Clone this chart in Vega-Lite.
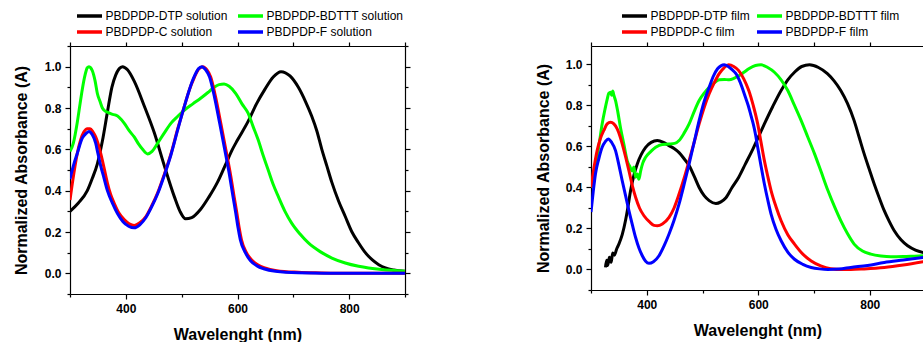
{
"$schema": "https://vega.github.io/schema/vega-lite/v6.json",
"padding": {"left": 13, "top": 9, "right": 0, "bottom": 0},
"spacing": 124,
"background": "white",
"datasets": {
"sol": [
{"s":"PBDPDP-DTP solution","x":300,"y":0.30},{"s":"PBDPDP-DTP solution","x":315,"y":0.34},{"s":"PBDPDP-DTP solution","x":331,"y":0.40},{"s":"PBDPDP-DTP solution","x":340,"y":0.46},{"s":"PBDPDP-DTP solution","x":349,"y":0.53},{"s":"PBDPDP-DTP solution","x":358,"y":0.64},{"s":"PBDPDP-DTP solution","x":367,"y":0.78},{"s":"PBDPDP-DTP solution","x":375,"y":0.90},{"s":"PBDPDP-DTP solution","x":382,"y":0.96},{"s":"PBDPDP-DTP solution","x":388,"y":0.99},{"s":"PBDPDP-DTP solution","x":394,"y":1.0},{"s":"PBDPDP-DTP solution","x":403,"y":0.985},{"s":"PBDPDP-DTP solution","x":415,"y":0.93},{"s":"PBDPDP-DTP solution","x":433,"y":0.81},{"s":"PBDPDP-DTP solution","x":451,"y":0.68},{"s":"PBDPDP-DTP solution","x":469,"y":0.52},{"s":"PBDPDP-DTP solution","x":487,"y":0.37},{"s":"PBDPDP-DTP solution","x":497,"y":0.30},{"s":"PBDPDP-DTP solution","x":507,"y":0.264},{"s":"PBDPDP-DTP solution","x":518,"y":0.27},{"s":"PBDPDP-DTP solution","x":534,"y":0.31},{"s":"PBDPDP-DTP solution","x":549,"y":0.37},{"s":"PBDPDP-DTP solution","x":564,"y":0.44},{"s":"PBDPDP-DTP solution","x":580,"y":0.535},{"s":"PBDPDP-DTP solution","x":590,"y":0.595},{"s":"PBDPDP-DTP solution","x":600,"y":0.645},{"s":"PBDPDP-DTP solution","x":619,"y":0.735},{"s":"PBDPDP-DTP solution","x":634,"y":0.82},{"s":"PBDPDP-DTP solution","x":649,"y":0.89},{"s":"PBDPDP-DTP solution","x":664,"y":0.95},{"s":"PBDPDP-DTP solution","x":678,"y":0.976},{"s":"PBDPDP-DTP solution","x":694,"y":0.955},{"s":"PBDPDP-DTP solution","x":709,"y":0.90},{"s":"PBDPDP-DTP solution","x":722,"y":0.83},{"s":"PBDPDP-DTP solution","x":733,"y":0.76},{"s":"PBDPDP-DTP solution","x":742,"y":0.69},{"s":"PBDPDP-DTP solution","x":751,"y":0.60},{"s":"PBDPDP-DTP solution","x":760,"y":0.52},{"s":"PBDPDP-DTP solution","x":769,"y":0.44},{"s":"PBDPDP-DTP solution","x":781,"y":0.35},{"s":"PBDPDP-DTP solution","x":793,"y":0.275},{"s":"PBDPDP-DTP solution","x":805,"y":0.20},{"s":"PBDPDP-DTP solution","x":817,"y":0.147},{"s":"PBDPDP-DTP solution","x":829,"y":0.10},{"s":"PBDPDP-DTP solution","x":841,"y":0.066},{"s":"PBDPDP-DTP solution","x":853,"y":0.042},{"s":"PBDPDP-DTP solution","x":865,"y":0.026},{"s":"PBDPDP-DTP solution","x":880,"y":0.016},{"s":"PBDPDP-DTP solution","x":900,"y":0.01},
{"s":"PBDPDP-BDTTT solution","x":300,"y":0.59},{"s":"PBDPDP-BDTTT solution","x":306,"y":0.63},{"s":"PBDPDP-BDTTT solution","x":313,"y":0.73},{"s":"PBDPDP-BDTTT solution","x":318,"y":0.82},{"s":"PBDPDP-BDTTT solution","x":322,"y":0.89},{"s":"PBDPDP-BDTTT solution","x":327,"y":0.96},{"s":"PBDPDP-BDTTT solution","x":331,"y":0.995},{"s":"PBDPDP-BDTTT solution","x":334,"y":1.0},{"s":"PBDPDP-BDTTT solution","x":337,"y":0.995},{"s":"PBDPDP-BDTTT solution","x":340,"y":0.98},{"s":"PBDPDP-BDTTT solution","x":345,"y":0.93},{"s":"PBDPDP-BDTTT solution","x":349,"y":0.87},{"s":"PBDPDP-BDTTT solution","x":354,"y":0.83},{"s":"PBDPDP-BDTTT solution","x":358,"y":0.80},{"s":"PBDPDP-BDTTT solution","x":363,"y":0.785},{"s":"PBDPDP-BDTTT solution","x":367,"y":0.78},{"s":"PBDPDP-BDTTT solution","x":375,"y":0.77},{"s":"PBDPDP-BDTTT solution","x":382,"y":0.765},{"s":"PBDPDP-BDTTT solution","x":388,"y":0.755},{"s":"PBDPDP-BDTTT solution","x":397,"y":0.727},{"s":"PBDPDP-BDTTT solution","x":406,"y":0.69},{"s":"PBDPDP-BDTTT solution","x":415,"y":0.66},{"s":"PBDPDP-BDTTT solution","x":423,"y":0.625},{"s":"PBDPDP-BDTTT solution","x":430,"y":0.60},{"s":"PBDPDP-BDTTT solution","x":439,"y":0.578},{"s":"PBDPDP-BDTTT solution","x":447,"y":0.59},{"s":"PBDPDP-BDTTT solution","x":457,"y":0.63},{"s":"PBDPDP-BDTTT solution","x":469,"y":0.68},{"s":"PBDPDP-BDTTT solution","x":481,"y":0.727},{"s":"PBDPDP-BDTTT solution","x":493,"y":0.76},{"s":"PBDPDP-BDTTT solution","x":505,"y":0.79},{"s":"PBDPDP-BDTTT solution","x":520,"y":0.82},{"s":"PBDPDP-BDTTT solution","x":534,"y":0.847},{"s":"PBDPDP-BDTTT solution","x":547,"y":0.875},{"s":"PBDPDP-BDTTT solution","x":558,"y":0.90},{"s":"PBDPDP-BDTTT solution","x":567,"y":0.913},{"s":"PBDPDP-BDTTT solution","x":576,"y":0.916},{"s":"PBDPDP-BDTTT solution","x":585,"y":0.905},{"s":"PBDPDP-BDTTT solution","x":597,"y":0.87},{"s":"PBDPDP-BDTTT solution","x":608,"y":0.82},{"s":"PBDPDP-BDTTT solution","x":619,"y":0.775},{"s":"PBDPDP-BDTTT solution","x":628,"y":0.71},{"s":"PBDPDP-BDTTT solution","x":637,"y":0.646},{"s":"PBDPDP-BDTTT solution","x":646,"y":0.57},{"s":"PBDPDP-BDTTT solution","x":655,"y":0.50},{"s":"PBDPDP-BDTTT solution","x":664,"y":0.43},{"s":"PBDPDP-BDTTT solution","x":673,"y":0.372},{"s":"PBDPDP-BDTTT solution","x":685,"y":0.30},{"s":"PBDPDP-BDTTT solution","x":697,"y":0.243},{"s":"PBDPDP-BDTTT solution","x":712,"y":0.19},{"s":"PBDPDP-BDTTT solution","x":727,"y":0.147},{"s":"PBDPDP-BDTTT solution","x":748,"y":0.105},{"s":"PBDPDP-BDTTT solution","x":769,"y":0.074},{"s":"PBDPDP-BDTTT solution","x":793,"y":0.05},{"s":"PBDPDP-BDTTT solution","x":817,"y":0.034},{"s":"PBDPDP-BDTTT solution","x":858,"y":0.018},{"s":"PBDPDP-BDTTT solution","x":900,"y":0.01},
{"s":"PBDPDP-C solution","x":300,"y":0.355},{"s":"PBDPDP-C solution","x":307,"y":0.485},{"s":"PBDPDP-C solution","x":313,"y":0.58},{"s":"PBDPDP-C solution","x":319,"y":0.646},{"s":"PBDPDP-C solution","x":325,"y":0.685},{"s":"PBDPDP-C solution","x":331,"y":0.70},{"s":"PBDPDP-C solution","x":336,"y":0.70},{"s":"PBDPDP-C solution","x":341,"y":0.685},{"s":"PBDPDP-C solution","x":346,"y":0.66},{"s":"PBDPDP-C solution","x":350,"y":0.63},{"s":"PBDPDP-C solution","x":355,"y":0.58},{"s":"PBDPDP-C solution","x":361,"y":0.51},{"s":"PBDPDP-C solution","x":367,"y":0.437},{"s":"PBDPDP-C solution","x":373,"y":0.38},{"s":"PBDPDP-C solution","x":379,"y":0.34},{"s":"PBDPDP-C solution","x":388,"y":0.29},{"s":"PBDPDP-C solution","x":397,"y":0.26},{"s":"PBDPDP-C solution","x":406,"y":0.24},{"s":"PBDPDP-C solution","x":415,"y":0.232},{"s":"PBDPDP-C solution","x":425,"y":0.245},{"s":"PBDPDP-C solution","x":436,"y":0.275},{"s":"PBDPDP-C solution","x":446,"y":0.325},{"s":"PBDPDP-C solution","x":457,"y":0.39},{"s":"PBDPDP-C solution","x":469,"y":0.48},{"s":"PBDPDP-C solution","x":481,"y":0.58},{"s":"PBDPDP-C solution","x":493,"y":0.70},{"s":"PBDPDP-C solution","x":505,"y":0.81},{"s":"PBDPDP-C solution","x":514,"y":0.89},{"s":"PBDPDP-C solution","x":523,"y":0.95},{"s":"PBDPDP-C solution","x":531,"y":0.99},{"s":"PBDPDP-C solution","x":538,"y":1.0},{"s":"PBDPDP-C solution","x":545,"y":0.985},{"s":"PBDPDP-C solution","x":552,"y":0.95},{"s":"PBDPDP-C solution","x":561,"y":0.85},{"s":"PBDPDP-C solution","x":570,"y":0.727},{"s":"PBDPDP-C solution","x":579,"y":0.60},{"s":"PBDPDP-C solution","x":588,"y":0.47},{"s":"PBDPDP-C solution","x":594,"y":0.37},{"s":"PBDPDP-C solution","x":599,"y":0.29},{"s":"PBDPDP-C solution","x":603,"y":0.22},{"s":"PBDPDP-C solution","x":607,"y":0.163},{"s":"PBDPDP-C solution","x":616,"y":0.10},{"s":"PBDPDP-C solution","x":625,"y":0.066},{"s":"PBDPDP-C solution","x":637,"y":0.04},{"s":"PBDPDP-C solution","x":649,"y":0.026},{"s":"PBDPDP-C solution","x":670,"y":0.013},{"s":"PBDPDP-C solution","x":709,"y":0.005},{"s":"PBDPDP-C solution","x":750,"y":0.002},{"s":"PBDPDP-C solution","x":800,"y":0.0},{"s":"PBDPDP-C solution","x":900,"y":0.0},
{"s":"PBDPDP-F solution","x":300,"y":0.456},{"s":"PBDPDP-F solution","x":306,"y":0.52},{"s":"PBDPDP-F solution","x":313,"y":0.58},{"s":"PBDPDP-F solution","x":322,"y":0.654},{"s":"PBDPDP-F solution","x":328,"y":0.675},{"s":"PBDPDP-F solution","x":334,"y":0.686},{"s":"PBDPDP-F solution","x":340,"y":0.67},{"s":"PBDPDP-F solution","x":346,"y":0.63},{"s":"PBDPDP-F solution","x":350,"y":0.58},{"s":"PBDPDP-F solution","x":355,"y":0.52},{"s":"PBDPDP-F solution","x":361,"y":0.46},{"s":"PBDPDP-F solution","x":367,"y":0.40},{"s":"PBDPDP-F solution","x":376,"y":0.34},{"s":"PBDPDP-F solution","x":385,"y":0.29},{"s":"PBDPDP-F solution","x":395,"y":0.25},{"s":"PBDPDP-F solution","x":405,"y":0.228},{"s":"PBDPDP-F solution","x":415,"y":0.22},{"s":"PBDPDP-F solution","x":425,"y":0.235},{"s":"PBDPDP-F solution","x":436,"y":0.27},{"s":"PBDPDP-F solution","x":446,"y":0.32},{"s":"PBDPDP-F solution","x":457,"y":0.385},{"s":"PBDPDP-F solution","x":469,"y":0.475},{"s":"PBDPDP-F solution","x":481,"y":0.575},{"s":"PBDPDP-F solution","x":493,"y":0.695},{"s":"PBDPDP-F solution","x":505,"y":0.81},{"s":"PBDPDP-F solution","x":514,"y":0.89},{"s":"PBDPDP-F solution","x":523,"y":0.955},{"s":"PBDPDP-F solution","x":530,"y":0.99},{"s":"PBDPDP-F solution","x":536,"y":1.0},{"s":"PBDPDP-F solution","x":543,"y":0.985},{"s":"PBDPDP-F solution","x":550,"y":0.95},{"s":"PBDPDP-F solution","x":559,"y":0.85},{"s":"PBDPDP-F solution","x":568,"y":0.727},{"s":"PBDPDP-F solution","x":577,"y":0.60},{"s":"PBDPDP-F solution","x":586,"y":0.47},{"s":"PBDPDP-F solution","x":592,"y":0.37},{"s":"PBDPDP-F solution","x":597,"y":0.29},{"s":"PBDPDP-F solution","x":601,"y":0.22},{"s":"PBDPDP-F solution","x":605,"y":0.163},{"s":"PBDPDP-F solution","x":614,"y":0.10},{"s":"PBDPDP-F solution","x":623,"y":0.062},{"s":"PBDPDP-F solution","x":635,"y":0.036},{"s":"PBDPDP-F solution","x":647,"y":0.022},{"s":"PBDPDP-F solution","x":668,"y":0.01},{"s":"PBDPDP-F solution","x":709,"y":0.003},{"s":"PBDPDP-F solution","x":800,"y":0.0},{"s":"PBDPDP-F solution","x":900,"y":0.0}
],
"film": [
{"s":"PBDPDP-DTP film","x":326,"y":0.01},{"s":"PBDPDP-DTP film","x":328,"y":0.045},{"s":"PBDPDP-DTP film","x":330,"y":0.02},{"s":"PBDPDP-DTP film","x":333,"y":0.06},{"s":"PBDPDP-DTP film","x":336,"y":0.035},{"s":"PBDPDP-DTP film","x":339,"y":0.08},{"s":"PBDPDP-DTP film","x":342,"y":0.07},{"s":"PBDPDP-DTP film","x":346,"y":0.10},{"s":"PBDPDP-DTP film","x":350,"y":0.124},{"s":"PBDPDP-DTP film","x":356,"y":0.17},{"s":"PBDPDP-DTP film","x":362,"y":0.24},{"s":"PBDPDP-DTP film","x":366,"y":0.30},{"s":"PBDPDP-DTP film","x":371,"y":0.385},{"s":"PBDPDP-DTP film","x":377,"y":0.46},{"s":"PBDPDP-DTP film","x":383,"y":0.515},{"s":"PBDPDP-DTP film","x":390,"y":0.56},{"s":"PBDPDP-DTP film","x":398,"y":0.596},{"s":"PBDPDP-DTP film","x":408,"y":0.62},{"s":"PBDPDP-DTP film","x":419,"y":0.629},{"s":"PBDPDP-DTP film","x":430,"y":0.62},{"s":"PBDPDP-DTP film","x":440,"y":0.604},{"s":"PBDPDP-DTP film","x":449,"y":0.59},{"s":"PBDPDP-DTP film","x":458,"y":0.57},{"s":"PBDPDP-DTP film","x":467,"y":0.54},{"s":"PBDPDP-DTP film","x":476,"y":0.507},{"s":"PBDPDP-DTP film","x":485,"y":0.455},{"s":"PBDPDP-DTP film","x":494,"y":0.40},{"s":"PBDPDP-DTP film","x":503,"y":0.36},{"s":"PBDPDP-DTP film","x":512,"y":0.336},{"s":"PBDPDP-DTP film","x":524,"y":0.322},{"s":"PBDPDP-DTP film","x":533,"y":0.33},{"s":"PBDPDP-DTP film","x":542,"y":0.35},{"s":"PBDPDP-DTP film","x":553,"y":0.40},{"s":"PBDPDP-DTP film","x":565,"y":0.45},{"s":"PBDPDP-DTP film","x":577,"y":0.515},{"s":"PBDPDP-DTP film","x":589,"y":0.58},{"s":"PBDPDP-DTP film","x":600,"y":0.645},{"s":"PBDPDP-DTP film","x":611,"y":0.71},{"s":"PBDPDP-DTP film","x":626,"y":0.795},{"s":"PBDPDP-DTP film","x":641,"y":0.873},{"s":"PBDPDP-DTP film","x":653,"y":0.925},{"s":"PBDPDP-DTP film","x":665,"y":0.962},{"s":"PBDPDP-DTP film","x":678,"y":0.99},{"s":"PBDPDP-DTP film","x":692,"y":0.998},{"s":"PBDPDP-DTP film","x":708,"y":0.985},{"s":"PBDPDP-DTP film","x":724,"y":0.955},{"s":"PBDPDP-DTP film","x":736,"y":0.92},{"s":"PBDPDP-DTP film","x":748,"y":0.873},{"s":"PBDPDP-DTP film","x":760,"y":0.81},{"s":"PBDPDP-DTP film","x":772,"y":0.726},{"s":"PBDPDP-DTP film","x":781,"y":0.645},{"s":"PBDPDP-DTP film","x":790,"y":0.564},{"s":"PBDPDP-DTP film","x":799,"y":0.49},{"s":"PBDPDP-DTP film","x":808,"y":0.417},{"s":"PBDPDP-DTP film","x":817,"y":0.35},{"s":"PBDPDP-DTP film","x":826,"y":0.287},{"s":"PBDPDP-DTP film","x":835,"y":0.235},{"s":"PBDPDP-DTP film","x":844,"y":0.189},{"s":"PBDPDP-DTP film","x":856,"y":0.145},{"s":"PBDPDP-DTP film","x":868,"y":0.116},{"s":"PBDPDP-DTP film","x":882,"y":0.095},{"s":"PBDPDP-DTP film","x":900,"y":0.08},
{"s":"PBDPDP-BDTTT film","x":300,"y":0.40},{"s":"PBDPDP-BDTTT film","x":304,"y":0.45},{"s":"PBDPDP-BDTTT film","x":308,"y":0.50},{"s":"PBDPDP-BDTTT film","x":314,"y":0.60},{"s":"PBDPDP-BDTTT film","x":320,"y":0.71},{"s":"PBDPDP-BDTTT film","x":325,"y":0.78},{"s":"PBDPDP-BDTTT film","x":329,"y":0.83},{"s":"PBDPDP-BDTTT film","x":332,"y":0.86},{"s":"PBDPDP-BDTTT film","x":335,"y":0.865},{"s":"PBDPDP-BDTTT film","x":337,"y":0.85},{"s":"PBDPDP-BDTTT film","x":339,"y":0.87},{"s":"PBDPDP-BDTTT film","x":341,"y":0.85},{"s":"PBDPDP-BDTTT film","x":344,"y":0.824},{"s":"PBDPDP-BDTTT film","x":348,"y":0.77},{"s":"PBDPDP-BDTTT film","x":353,"y":0.69},{"s":"PBDPDP-BDTTT film","x":359,"y":0.61},{"s":"PBDPDP-BDTTT film","x":365,"y":0.53},{"s":"PBDPDP-BDTTT film","x":370,"y":0.50},{"s":"PBDPDP-BDTTT film","x":374,"y":0.48},{"s":"PBDPDP-BDTTT film","x":377,"y":0.50},{"s":"PBDPDP-BDTTT film","x":380,"y":0.45},{"s":"PBDPDP-BDTTT film","x":383,"y":0.466},{"s":"PBDPDP-BDTTT film","x":386,"y":0.44},{"s":"PBDPDP-BDTTT film","x":389,"y":0.48},{"s":"PBDPDP-BDTTT film","x":393,"y":0.52},{"s":"PBDPDP-BDTTT film","x":398,"y":0.547},{"s":"PBDPDP-BDTTT film","x":407,"y":0.575},{"s":"PBDPDP-BDTTT film","x":416,"y":0.596},{"s":"PBDPDP-BDTTT film","x":428,"y":0.61},{"s":"PBDPDP-BDTTT film","x":440,"y":0.612},{"s":"PBDPDP-BDTTT film","x":450,"y":0.615},{"s":"PBDPDP-BDTTT film","x":458,"y":0.629},{"s":"PBDPDP-BDTTT film","x":467,"y":0.665},{"s":"PBDPDP-BDTTT film","x":476,"y":0.71},{"s":"PBDPDP-BDTTT film","x":485,"y":0.77},{"s":"PBDPDP-BDTTT film","x":494,"y":0.824},{"s":"PBDPDP-BDTTT film","x":503,"y":0.86},{"s":"PBDPDP-BDTTT film","x":512,"y":0.889},{"s":"PBDPDP-BDTTT film","x":521,"y":0.91},{"s":"PBDPDP-BDTTT film","x":530,"y":0.925},{"s":"PBDPDP-BDTTT film","x":539,"y":0.927},{"s":"PBDPDP-BDTTT film","x":548,"y":0.925},{"s":"PBDPDP-BDTTT film","x":557,"y":0.933},{"s":"PBDPDP-BDTTT film","x":566,"y":0.946},{"s":"PBDPDP-BDTTT film","x":575,"y":0.963},{"s":"PBDPDP-BDTTT film","x":583,"y":0.979},{"s":"PBDPDP-BDTTT film","x":595,"y":0.995},{"s":"PBDPDP-BDTTT film","x":605,"y":0.998},{"s":"PBDPDP-BDTTT film","x":617,"y":0.985},{"s":"PBDPDP-BDTTT film","x":629,"y":0.962},{"s":"PBDPDP-BDTTT film","x":641,"y":0.925},{"s":"PBDPDP-BDTTT film","x":653,"y":0.873},{"s":"PBDPDP-BDTTT film","x":665,"y":0.80},{"s":"PBDPDP-BDTTT film","x":677,"y":0.726},{"s":"PBDPDP-BDTTT film","x":689,"y":0.645},{"s":"PBDPDP-BDTTT film","x":701,"y":0.564},{"s":"PBDPDP-BDTTT film","x":713,"y":0.475},{"s":"PBDPDP-BDTTT film","x":725,"y":0.385},{"s":"PBDPDP-BDTTT film","x":737,"y":0.305},{"s":"PBDPDP-BDTTT film","x":748,"y":0.238},{"s":"PBDPDP-BDTTT film","x":760,"y":0.175},{"s":"PBDPDP-BDTTT film","x":772,"y":0.124},{"s":"PBDPDP-BDTTT film","x":787,"y":0.09},{"s":"PBDPDP-BDTTT film","x":802,"y":0.075},{"s":"PBDPDP-BDTTT film","x":820,"y":0.066},{"s":"PBDPDP-BDTTT film","x":838,"y":0.062},{"s":"PBDPDP-BDTTT film","x":860,"y":0.063},{"s":"PBDPDP-BDTTT film","x":880,"y":0.065},{"s":"PBDPDP-BDTTT film","x":900,"y":0.067},
{"s":"PBDPDP-C film","x":300,"y":0.40},{"s":"PBDPDP-C film","x":305,"y":0.49},{"s":"PBDPDP-C film","x":311,"y":0.58},{"s":"PBDPDP-C film","x":317,"y":0.64},{"s":"PBDPDP-C film","x":323,"y":0.678},{"s":"PBDPDP-C film","x":329,"y":0.71},{"s":"PBDPDP-C film","x":335,"y":0.718},{"s":"PBDPDP-C film","x":341,"y":0.71},{"s":"PBDPDP-C film","x":347,"y":0.686},{"s":"PBDPDP-C film","x":352,"y":0.65},{"s":"PBDPDP-C film","x":356,"y":0.613},{"s":"PBDPDP-C film","x":362,"y":0.55},{"s":"PBDPDP-C film","x":368,"y":0.482},{"s":"PBDPDP-C film","x":374,"y":0.41},{"s":"PBDPDP-C film","x":380,"y":0.352},{"s":"PBDPDP-C film","x":387,"y":0.30},{"s":"PBDPDP-C film","x":395,"y":0.262},{"s":"PBDPDP-C film","x":405,"y":0.232},{"s":"PBDPDP-C film","x":413,"y":0.215},{"s":"PBDPDP-C film","x":419,"y":0.213},{"s":"PBDPDP-C film","x":428,"y":0.222},{"s":"PBDPDP-C film","x":440,"y":0.254},{"s":"PBDPDP-C film","x":449,"y":0.30},{"s":"PBDPDP-C film","x":458,"y":0.368},{"s":"PBDPDP-C film","x":467,"y":0.445},{"s":"PBDPDP-C film","x":476,"y":0.531},{"s":"PBDPDP-C film","x":485,"y":0.62},{"s":"PBDPDP-C film","x":494,"y":0.71},{"s":"PBDPDP-C film","x":503,"y":0.79},{"s":"PBDPDP-C film","x":512,"y":0.857},{"s":"PBDPDP-C film","x":521,"y":0.91},{"s":"PBDPDP-C film","x":530,"y":0.955},{"s":"PBDPDP-C film","x":539,"y":0.985},{"s":"PBDPDP-C film","x":547,"y":0.998},{"s":"PBDPDP-C film","x":556,"y":0.99},{"s":"PBDPDP-C film","x":565,"y":0.97},{"s":"PBDPDP-C film","x":574,"y":0.93},{"s":"PBDPDP-C film","x":583,"y":0.873},{"s":"PBDPDP-C film","x":591,"y":0.80},{"s":"PBDPDP-C film","x":599,"y":0.71},{"s":"PBDPDP-C film","x":605,"y":0.62},{"s":"PBDPDP-C film","x":611,"y":0.531},{"s":"PBDPDP-C film","x":617,"y":0.455},{"s":"PBDPDP-C film","x":623,"y":0.385},{"s":"PBDPDP-C film","x":632,"y":0.305},{"s":"PBDPDP-C film","x":641,"y":0.238},{"s":"PBDPDP-C film","x":653,"y":0.17},{"s":"PBDPDP-C film","x":665,"y":0.124},{"s":"PBDPDP-C film","x":680,"y":0.075},{"s":"PBDPDP-C film","x":695,"y":0.042},{"s":"PBDPDP-C film","x":712,"y":0.018},{"s":"PBDPDP-C film","x":730,"y":0.004},{"s":"PBDPDP-C film","x":750,"y":0.0},{"s":"PBDPDP-C film","x":766,"y":0.0},{"s":"PBDPDP-C film","x":790,"y":0.003},{"s":"PBDPDP-C film","x":826,"y":0.01},{"s":"PBDPDP-C film","x":860,"y":0.022},{"s":"PBDPDP-C film","x":900,"y":0.04},
{"s":"PBDPDP-F film","x":300,"y":0.28},{"s":"PBDPDP-F film","x":304,"y":0.38},{"s":"PBDPDP-F film","x":308,"y":0.466},{"s":"PBDPDP-F film","x":314,"y":0.54},{"s":"PBDPDP-F film","x":320,"y":0.596},{"s":"PBDPDP-F film","x":326,"y":0.625},{"s":"PBDPDP-F film","x":331,"y":0.637},{"s":"PBDPDP-F film","x":337,"y":0.62},{"s":"PBDPDP-F film","x":344,"y":0.58},{"s":"PBDPDP-F film","x":350,"y":0.51},{"s":"PBDPDP-F film","x":356,"y":0.433},{"s":"PBDPDP-F film","x":362,"y":0.36},{"s":"PBDPDP-F film","x":368,"y":0.287},{"s":"PBDPDP-F film","x":374,"y":0.22},{"s":"PBDPDP-F film","x":380,"y":0.156},{"s":"PBDPDP-F film","x":386,"y":0.105},{"s":"PBDPDP-F film","x":392,"y":0.067},{"s":"PBDPDP-F film","x":398,"y":0.04},{"s":"PBDPDP-F film","x":404,"y":0.03},{"s":"PBDPDP-F film","x":412,"y":0.038},{"s":"PBDPDP-F film","x":422,"y":0.067},{"s":"PBDPDP-F film","x":431,"y":0.115},{"s":"PBDPDP-F film","x":440,"y":0.173},{"s":"PBDPDP-F film","x":449,"y":0.24},{"s":"PBDPDP-F film","x":458,"y":0.32},{"s":"PBDPDP-F film","x":467,"y":0.415},{"s":"PBDPDP-F film","x":476,"y":0.515},{"s":"PBDPDP-F film","x":485,"y":0.62},{"s":"PBDPDP-F film","x":494,"y":0.727},{"s":"PBDPDP-F film","x":503,"y":0.82},{"s":"PBDPDP-F film","x":512,"y":0.889},{"s":"PBDPDP-F film","x":519,"y":0.94},{"s":"PBDPDP-F film","x":527,"y":0.979},{"s":"PBDPDP-F film","x":533,"y":0.993},{"s":"PBDPDP-F film","x":539,"y":0.998},{"s":"PBDPDP-F film","x":546,"y":0.99},{"s":"PBDPDP-F film","x":553,"y":0.975},{"s":"PBDPDP-F film","x":560,"y":0.955},{"s":"PBDPDP-F film","x":568,"y":0.91},{"s":"PBDPDP-F film","x":577,"y":0.84},{"s":"PBDPDP-F film","x":582,"y":0.80},{"s":"PBDPDP-F film","x":587,"y":0.75},{"s":"PBDPDP-F film","x":591,"y":0.71},{"s":"PBDPDP-F film","x":595,"y":0.66},{"s":"PBDPDP-F film","x":599,"y":0.596},{"s":"PBDPDP-F film","x":605,"y":0.505},{"s":"PBDPDP-F film","x":611,"y":0.417},{"s":"PBDPDP-F film","x":617,"y":0.34},{"s":"PBDPDP-F film","x":623,"y":0.27},{"s":"PBDPDP-F film","x":632,"y":0.195},{"s":"PBDPDP-F film","x":641,"y":0.14},{"s":"PBDPDP-F film","x":653,"y":0.085},{"s":"PBDPDP-F film","x":665,"y":0.05},{"s":"PBDPDP-F film","x":680,"y":0.025},{"s":"PBDPDP-F film","x":695,"y":0.01},{"s":"PBDPDP-F film","x":710,"y":0.003},{"s":"PBDPDP-F film","x":725,"y":0.0},{"s":"PBDPDP-F film","x":745,"y":0.002},{"s":"PBDPDP-F film","x":766,"y":0.01},{"s":"PBDPDP-F film","x":796,"y":0.02},{"s":"PBDPDP-F film","x":826,"y":0.034},{"s":"PBDPDP-F film","x":860,"y":0.046},{"s":"PBDPDP-F film","x":900,"y":0.06}
]
},
"hconcat": [
{
"width": 335, "height": 248,
"data": {"name": "sol"},
"layer": [
{"mark": {"type": "line", "strokeWidth": 3, "clip": true, "interpolate": "monotone"},
 "encoding": {
  "x": {"field": "x", "type": "quantitative", "scale": {"domain": [300, 900], "nice": false, "zero": false},
        "axis": {"orient": "bottom", "title": "Wavelenght (nm)", "values": [300,400,500,600,700,800,900], "labelExpr": "datum.value % 200 == 0 ? datum.label : ''", "tickSize": {"condition": {"test": "datum.value % 200 == 0", "value": 5}, "value": 3}, "titlePadding": 12}},
  "y": {"field": "y", "type": "quantitative", "scale": {"domain": [-0.1, 1.1], "nice": false, "zero": false},
        "axis": {"orient": "left", "title": "Normalized Absorbance (A)", "values": [-0.1,0,0.1,0.2,0.3,0.4,0.5,0.6,0.7,0.8,0.9,1.0,1.1], "labelExpr": "(round(datum.value*10) % 2 == 0 && datum.value > -0.05) ? format(datum.value, '.1f') : ''", "tickSize": {"condition": {"test": "round(datum.value*10) % 2 == 0", "value": 5}, "value": 3}, "titlePadding": 15}},
  "color": {"field": "s", "type": "nominal",
        "scale": {"domain": ["PBDPDP-DTP solution","PBDPDP-BDTTT solution","PBDPDP-C solution","PBDPDP-F solution"], "range": ["#000000","#00ff00","#ff0000","#0000ff"]},
        "legend": {"title": null, "orient": "none", "direction": "horizontal", "legendX": 7, "legendY": -37, "columns": 2, "gridAlign": "each", "columnPadding": 3, "rowPadding": 2, "symbolType": "M-2.5,0H2.5", "symbolSize": 100, "symbolStrokeWidth": 3.5, "symbolOffset": 5.5, "labelOffset": 9, "padding": 0}}
 }},
{"mark": {"type": "line", "opacity": 0},
 "encoding": {
  "x": {"field": "x", "type": "quantitative", "scale": {"domain": [300, 900], "nice": false, "zero": false},
        "axis": {"orient": "top", "title": null, "labels": false, "values": [300,400,500,600,700,800,900], "tickSize": 4}},
  "y": {"field": "y", "type": "quantitative", "scale": {"domain": [-0.1, 1.1], "nice": false, "zero": false},
        "axis": {"orient": "right", "title": null, "labels": false, "values": [-0.1,0,0.1,0.2,0.3,0.4,0.5,0.6,0.7,0.8,0.9,1.0,1.1], "tickSize": {"condition": {"test": "round(datum.value*10) % 2 == 0", "value": 5}, "value": 3}}}
 }}
],
"resolve": {"axis": {"x": "independent", "y": "independent"}}
},
{
"width": 333, "height": 244,
"data": {"name": "film"},
"layer": [
{"mark": {"type": "line", "strokeWidth": 3, "clip": true, "interpolate": "monotone"},
 "encoding": {
  "x": {"field": "x", "type": "quantitative", "scale": {"domain": [300, 897.3], "nice": false, "zero": false},
        "axis": {"orient": "bottom", "title": "Wavelenght (nm)", "values": [300,400,500,600,700,800], "labelExpr": "datum.value % 200 == 0 ? datum.label : ''", "tickSize": {"condition": {"test": "datum.value % 200 == 0", "value": 5}, "value": 3}, "titlePadding": 12}},
  "y": {"field": "y", "type": "quantitative", "scale": {"domain": [-0.1, 1.09], "nice": false, "zero": false},
        "axis": {"orient": "left", "title": "Normalized Absorbance (A)", "values": [-0.1,0,0.1,0.2,0.3,0.4,0.5,0.6,0.7,0.8,0.9,1.0], "labelExpr": "(round(datum.value*10) % 2 == 0 && datum.value > -0.05) ? format(datum.value, '.1f') : ''", "tickSize": {"condition": {"test": "round(datum.value*10) % 2 == 0", "value": 5}, "value": 3}, "titlePadding": 14}},
  "color": {"field": "s", "type": "nominal",
        "scale": {"domain": ["PBDPDP-DTP film","PBDPDP-BDTTT film","PBDPDP-C film","PBDPDP-F film"], "range": ["#000000","#00ff00","#ff0000","#0000ff"]},
        "legend": {"title": null, "orient": "none", "direction": "horizontal", "legendX": 31, "legendY": -37, "columns": 2, "gridAlign": "each", "columnPadding": 0, "rowPadding": 2, "symbolType": "M-2.5,0H2.5", "symbolSize": 100, "symbolStrokeWidth": 3.5, "symbolOffset": 5.5, "labelOffset": 9, "padding": 0}}
 }},
{"mark": {"type": "line", "opacity": 0},
 "encoding": {
  "x": {"field": "x", "type": "quantitative", "scale": {"domain": [300, 897.3], "nice": false, "zero": false},
        "axis": {"orient": "top", "title": null, "labels": false, "values": [300,400,500,600,700,800], "tickSize": 4}},
  "y": {"field": "y", "type": "quantitative", "scale": {"domain": [-0.1, 1.09], "nice": false, "zero": false}, "axis": null}
 }}
],
"resolve": {"axis": {"x": "independent", "y": "independent"}}
}
],
"resolve": {"scale": {"color": "independent"}, "legend": {"color": "independent"}},
"config": {
 "view": {"stroke": null},
 "font": "Liberation Sans",
 "axis": {"grid": false, "domainColor": "#000", "domainWidth": 1.2, "tickColor": "#000", "tickWidth": 1.2, "labelFont": "Liberation Sans", "labelFontSize": 12, "labelFontWeight": "bold", "labelColor": "#000", "labelPadding": 4, "labelFlush": false, "labelOverlap": false, "titleFont": "Liberation Sans", "titleFontSize": 16, "titleFontWeight": "bold", "titleColor": "#000"},
 "legend": {"labelFont": "Liberation Sans", "labelFontSize": 12, "labelColor": "#000"}
}
}
